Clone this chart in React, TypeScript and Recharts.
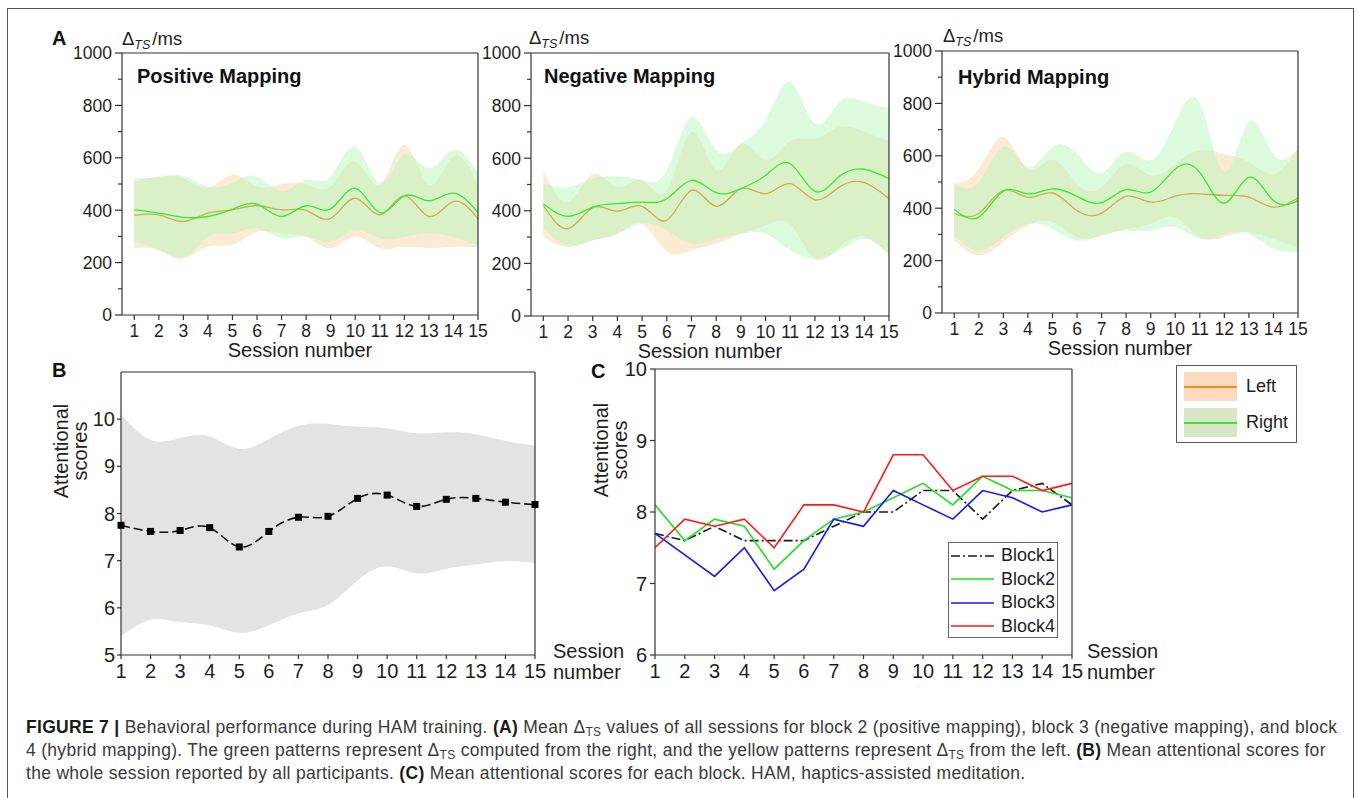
import React from 'react'
import { ComposedChart, LineChart, Line, Area, XAxis, YAxis, Legend } from 'recharts'

const FONT = '"Liberation Sans", Arial, Helvetica, sans-serif'
const INK = '#1e1e1e'
const AXIS = '#333'

const sessions = [1, 2, 3, 4, 5, 6, 7, 8, 9, 10, 11, 12, 13, 14, 15]
const msTicks = [0, 100, 200, 300, 400, 500, 600, 700, 800, 900, 1000]
const scoreTicksB = [5, 6, 7, 8, 9, 10]
const scoreTicksC = [6, 7, 8, 9, 10]

// block 2, positive mapping (delta TS in ms)
const posLeftMean = [380, 382, 357, 389, 401, 418, 401, 399, 369, 446, 382, 456, 376, 433, 367]
const posLeftLow = [255, 248, 217, 261, 268, 318, 312, 299, 255, 300, 255, 261, 255, 261, 259]
const posLeftHigh = [510, 529, 522, 484, 535, 490, 499, 499, 490, 586, 497, 650, 497, 605, 497]
const posRightMean = [401, 389, 373, 376, 404, 423, 376, 417, 405, 484, 391, 455, 436, 465, 391]
const posRightLow = [280, 248, 217, 299, 312, 331, 293, 299, 280, 325, 293, 299, 312, 299, 264]
const posRightHigh = [522, 526, 531, 490, 505, 529, 471, 516, 529, 643, 503, 611, 560, 631, 541]

// block 3, negative mapping
const negLeftMean = [421, 332, 412, 399, 417, 364, 478, 417, 484, 465, 503, 442, 491, 507, 446]
const negLeftLow = [300, 262, 288, 313, 351, 246, 250, 275, 313, 345, 349, 218, 262, 300, 231]
const negLeftHigh = [554, 433, 539, 490, 516, 478, 700, 554, 655, 592, 665, 674, 719, 700, 665]
const negRightMean = [427, 379, 414, 427, 433, 446, 516, 469, 484, 535, 579, 474, 531, 558, 522]
const negRightLow = [332, 269, 288, 313, 351, 326, 275, 294, 313, 313, 250, 218, 250, 294, 237]
const negRightHigh = [503, 490, 522, 531, 516, 554, 757, 630, 655, 744, 890, 731, 814, 814, 792]

// block 4, hybrid mapping
const hybLeftMean = [379, 381, 468, 442, 458, 391, 381, 445, 423, 446, 455, 449, 442, 404, 440]
const hybLeftLow = [277, 220, 271, 334, 347, 290, 296, 321, 341, 366, 290, 290, 309, 283, 252]
const hybLeftHigh = [493, 550, 671, 550, 585, 493, 480, 569, 525, 569, 620, 607, 576, 531, 626]
const hybRightMean = [395, 366, 465, 455, 474, 445, 421, 471, 461, 550, 537, 419, 518, 429, 429]
const hybRightLow = [296, 239, 290, 341, 321, 277, 296, 315, 315, 328, 283, 302, 302, 245, 233]
const hybRightHigh = [493, 497, 635, 557, 635, 607, 535, 616, 582, 728, 800, 537, 731, 605, 626]

// attentional scores, whole session
const attMean = [7.75, 7.62, 7.64, 7.7, 7.29, 7.62, 7.92, 7.94, 8.32, 8.39, 8.15, 8.3, 8.32, 8.24, 8.19]
const attLow = [5.4, 5.75, 5.7, 5.63, 5.47, 5.63, 5.88, 6.06, 6.58, 6.88, 6.73, 6.83, 6.92, 6.99, 6.95]
const attHigh = [10.1, 9.56, 9.6, 9.63, 9.37, 9.58, 9.86, 9.9, 9.84, 9.81, 9.7, 9.72, 9.68, 9.54, 9.44]

// attentional scores per block
const block1 = [7.7, 7.6, 7.8, 7.6, 7.6, 7.6, 7.8, 8.0, 8.0, 8.3, 8.3, 7.9, 8.3, 8.4, 8.1]
const block2 = [8.1, 7.6, 7.9, 7.8, 7.2, 7.6, 7.9, 8.0, 8.2, 8.4, 8.1, 8.5, 8.3, 8.3, 8.2]
const block3 = [7.7, 7.4, 7.1, 7.5, 6.9, 7.2, 7.9, 7.8, 8.3, 8.1, 7.9, 8.3, 8.2, 8.0, 8.1]
const block4 = [7.5, 7.9, 7.8, 7.9, 7.5, 8.1, 8.1, 8.0, 8.8, 8.8, 8.3, 8.5, 8.5, 8.3, 8.4]

const blockSeries = [
  { key: 'block1', name: 'Block1', color: '#1a1a1a', dash: '9 3 2 3' },
  { key: 'block2', name: 'Block2', color: '#1ee11e', dash: undefined },
  { key: 'block3', name: 'Block3', color: '#1414ff', dash: undefined },
  { key: 'block4', name: 'Block4', color: '#ff1a1a', dash: undefined },
]

const buildRows = (lMean: number[], lLow: number[], lHigh: number[], rMean: number[], rLow: number[], rHigh: number[]) =>
  sessions.map((s, i) => ({
    session: s,
    leftBand: [lLow[i], lHigh[i]],
    leftMean: lMean[i],
    rightBand: [rLow[i], rHigh[i]],
    rightMean: rMean[i],
  }))

const positiveRows = buildRows(posLeftMean, posLeftLow, posLeftHigh, posRightMean, posRightLow, posRightHigh)
const negativeRows = buildRows(negLeftMean, negLeftLow, negLeftHigh, negRightMean, negRightLow, negRightHigh)
const hybridRows = buildRows(hybLeftMean, hybLeftLow, hybLeftHigh, hybRightMean, hybRightLow, hybRightHigh)

const attRows = sessions.map((s, i) => ({ session: s, band: [attLow[i], attHigh[i]], mean: attMean[i] }))
const blockRows = sessions.map((s, i) => ({ session: s, block1: block1[i], block2: block2[i], block3: block3[i], block4: block4[i] }))

type Box = { left: number; top: number; right: number; bottom: number }

// y ticks every 100 ms, labelled every 200
function MsTick(props: any) {
  const { x, y, payload } = props
  const major = payload.value % 200 === 0
  const edge = x + 10
  return (
    <g>
      <line x1={edge - (major ? 7 : 4)} x2={edge} y1={y} y2={y} stroke={AXIS} strokeWidth={1.2} />
      {major && (
        <text x={x} y={y} dy="0.36em" textAnchor="end" fontSize={17.5} fill={INK}>
          {payload.value}
        </text>
      )}
    </g>
  )
}

const A_Y_W = 60
const A_TOP = 10
const A_RIGHT = 16
const A_X_H = 46

function MappingChart({ plot, rows }: { plot: Box; rows: ReturnType<typeof buildRows> }) {
  const width = plot.right - plot.left + A_Y_W + A_RIGHT
  const height = plot.bottom - plot.top + A_TOP + A_X_H
  return (
    <div style={{ position: 'absolute', left: plot.left - A_Y_W, top: plot.top - A_TOP }}>
      <ComposedChart width={width} height={height} data={rows} margin={{ top: A_TOP - 1, right: A_RIGHT - 1, bottom: 0, left: 0 }}>
        <XAxis
          xAxisId="b"
          type="number"
          dataKey="session"
          domain={[0.5, 15]}
          ticks={sessions}
          interval={0}
          height={A_X_H}
          tickSize={5}
          tickMargin={5}
          stroke={AXIS}
          strokeWidth={1.2}
          tick={{ fontSize: 17.5, fill: INK }}
          label={{ value: 'Session number', position: 'insideBottom', offset: 4, fontSize: 20, fill: INK }}
        />
        <XAxis xAxisId="t" orientation="top" type="number" dataKey="session" domain={[0.5, 15]} ticks={sessions} interval={0} height={1} tickSize={-5} tick={false} stroke={AXIS} strokeWidth={1.2} />
        <YAxis yAxisId="y" type="number" domain={[0, 1000]} ticks={msTicks} interval={0} width={A_Y_W} tickSize={7} tickMargin={3} tickLine={false} tick={<MsTick />} stroke={AXIS} strokeWidth={1.2} />
        <YAxis yAxisId="r" orientation="right" type="number" domain={[0, 1000]} width={1} tick={false} tickLine={false} stroke={AXIS} strokeWidth={1.2} />
        <Area xAxisId="b" yAxisId="y" dataKey="leftBand" type="natural" stroke="none" fill="#faebd2" fillOpacity={1} isAnimationActive={false} dot={false} activeDot={false} />
        <Area xAxisId="b" yAxisId="y" dataKey="rightBand" type="natural" stroke="none" fill="#b9f5b9" fillOpacity={0.5} isAnimationActive={false} dot={false} activeDot={false} />
        {/* left mean sits under the green band, so it reads olive */}
        <Line xAxisId="b" yAxisId="y" dataKey="leftMean" type="natural" stroke="#c9b04a" strokeWidth={1.3} dot={false} activeDot={false} isAnimationActive={false} />
        <Line xAxisId="b" yAxisId="y" dataKey="rightMean" type="natural" stroke="#33ee33" strokeWidth={1.3} dot={false} activeDot={false} isAnimationActive={false} />
      </ComposedChart>
    </div>
  )
}

const BC_Y_W = 40
const BC_TOP = 10
const BC_RIGHT = 16
const BC_X_H = 40

const boxB: Box = { left: 121, top: 372, right: 535, bottom: 655 }
const boxC: Box = { left: 655, top: 369, right: 1072, bottom: 655 }

function SquareDot(props: any) {
  const { cx, cy, index } = props
  return <rect key={`sq-${index}`} x={cx - 3.5} y={cy - 3.5} width={7} height={7} fill="#000" />
}

function WholeSessionChart() {
  const p = boxB
  const width = p.right - p.left + BC_Y_W + BC_RIGHT
  const height = p.bottom - p.top + BC_TOP + BC_X_H
  return (
    <div style={{ position: 'absolute', left: p.left - BC_Y_W, top: p.top - BC_TOP }}>
      <ComposedChart width={width} height={height} data={attRows} margin={{ top: BC_TOP - 1, right: BC_RIGHT - 1, bottom: 0, left: 0 }}>
        <XAxis xAxisId="b" type="number" dataKey="session" domain={[1, 15]} ticks={sessions} interval={0} height={BC_X_H} tickSize={4} tickMargin={5} stroke={AXIS} strokeWidth={1.2} tick={{ fontSize: 20, fill: INK }} />
        <XAxis xAxisId="t" orientation="top" type="number" dataKey="session" domain={[1, 15]} ticks={sessions} interval={0} height={1} tickSize={-5} tick={false} stroke={AXIS} strokeWidth={1.2} />
        <YAxis yAxisId="y" type="number" domain={[5, 11]} ticks={scoreTicksB} interval={0} width={BC_Y_W} tickSize={4} tickMargin={2} stroke={AXIS} strokeWidth={1.2} tick={{ fontSize: 20, fill: INK }} />
        <YAxis yAxisId="r" orientation="right" type="number" domain={[5, 11]} width={1} tick={false} tickLine={false} stroke={AXIS} strokeWidth={1.2} />
        <Area xAxisId="b" yAxisId="y" dataKey="band" type="natural" stroke="none" fill="#e3e3e3" fillOpacity={1} isAnimationActive={false} dot={false} activeDot={false} />
        <Line xAxisId="b" yAxisId="y" dataKey="mean" type="natural" stroke="#111" strokeWidth={1.6} strokeDasharray="9 4" dot={<SquareDot />} activeDot={false} isAnimationActive={false} />
      </ComposedChart>
    </div>
  )
}

function BlockLegend() {
  return (
    <div style={{ border: '1px solid #666', background: '#fff', padding: '1px 0', boxSizing: 'border-box', width: 110, height: 96 }}>
      {blockSeries.map((s) => (
        <div key={s.key} style={{ height: 23.5, display: 'flex', alignItems: 'center' }}>
          <svg width={50} height={10} style={{ flex: 'none' }}>
            <line x1={2} x2={45} y1={5} y2={5} stroke={s.color} strokeWidth={1.6} strokeDasharray={s.dash} />
          </svg>
          <span style={{ fontSize: 18, color: INK, marginLeft: 2 }}>{s.name}</span>
        </div>
      ))}
    </div>
  )
}

function BlockChart() {
  const p = boxC
  const width = p.right - p.left + BC_Y_W + BC_RIGHT
  const height = p.bottom - p.top + BC_TOP + BC_X_H
  return (
    <div style={{ position: 'absolute', left: p.left - BC_Y_W, top: p.top - BC_TOP }}>
      <LineChart width={width} height={height} data={blockRows} margin={{ top: BC_TOP - 1, right: BC_RIGHT - 1, bottom: 0, left: 0 }}>
        <XAxis xAxisId="b" type="number" dataKey="session" domain={[1, 15]} ticks={sessions} interval={0} height={BC_X_H} tickSize={4} tickMargin={5} stroke={AXIS} strokeWidth={1.2} tick={{ fontSize: 20, fill: INK }} />
        <XAxis xAxisId="t" orientation="top" type="number" dataKey="session" domain={[1, 15]} ticks={sessions} interval={0} height={1} tickSize={-5} tick={false} stroke={AXIS} strokeWidth={1.2} />
        <YAxis yAxisId="y" type="number" domain={[6, 10]} ticks={scoreTicksC} interval={0} width={BC_Y_W} tickSize={5} tickMargin={3} stroke={AXIS} strokeWidth={1.2} tick={{ fontSize: 20, fill: INK }} />
        <YAxis yAxisId="r" orientation="right" type="number" domain={[6, 10]} width={1} tick={false} tickLine={false} stroke={AXIS} strokeWidth={1.2} />
        {blockSeries.map((s) => (
          <Line
            key={s.key}
            xAxisId="b"
            yAxisId="y"
            dataKey={s.key}
            name={s.name}
            type="linear"
            stroke={s.color}
            strokeWidth={1.6}
            strokeDasharray={s.dash}
            dot={false}
            activeDot={false}
            isAnimationActive={false}
          />
        ))}
        <Legend
          layout="vertical"
          align="center"
          verticalAlign="middle"
          wrapperStyle={{ left: 948 - (p.left - BC_Y_W), top: 542 - (p.top - BC_TOP), width: 110, height: 96 }}
          content={() => <BlockLegend />}
        />
      </LineChart>
    </div>
  )
}

// shared key for the three mapping panels
function SideLegend() {
  const patch = (bg: string, line: string) => (
    <div style={{ position: 'relative', width: 53, height: 29, background: bg }}>
      <div style={{ position: 'absolute', left: 0, right: 0, top: 14, height: 1.5, background: line }} />
    </div>
  )
  return (
    <div style={{ position: 'absolute', left: 1176, top: 365, width: 121, height: 78, border: '1px solid #555', boxSizing: 'border-box', background: '#fff' }}>
      <div style={{ position: 'absolute', left: 7, top: 6, display: 'flex', alignItems: 'center' }}>
        {patch('#fcdabd', '#f5892b')}
        <span style={{ marginLeft: 9, fontSize: 18, color: INK }}>Left</span>
      </div>
      <div style={{ position: 'absolute', left: 7, top: 42, display: 'flex', alignItems: 'center' }}>
        {patch('#d9e6c5', '#35e635')}
        <span style={{ marginLeft: 9, fontSize: 18, color: INK }}>Right</span>
      </div>
    </div>
  )
}

function DeltaUnit({ x, y }: { x: number; y: number }) {
  return (
    <text x={x} y={y} fontSize={18.5} fill={INK}>
      Δ
      <tspan fontSize={12.5} fontStyle="italic" dy={4}>TS</tspan>
      <tspan dy={-4} dx={2}>/ms</tspan>
    </text>
  )
}

function Annotations() {
  const title = { fontSize: 20, fontWeight: 700, fill: '#111' } as const
  const letter = { fontSize: 20, fontWeight: 700, fill: '#111' } as const
  const label = { fontSize: 20, fill: INK } as const
  return (
    <svg width={1358} height={798} style={{ position: 'absolute', left: 0, top: 0, pointerEvents: 'none', fontFamily: FONT }}>
      <text x={52} y={45} {...letter}>A</text>
      <DeltaUnit x={122} y={45} />
      <DeltaUnit x={529} y={44} />
      <DeltaUnit x={943} y={42} />
      <text x={137} y={83} {...title}>Positive Mapping</text>
      <text x={544} y={83} {...title}>Negative Mapping</text>
      <text x={958} y={84} {...title}>Hybrid Mapping</text>

      <text x={52} y={377} {...letter}>B</text>
      <text transform="translate(61,451) rotate(-90)" textAnchor="middle" dominantBaseline="central" {...label}>Attentional</text>
      <text transform="translate(80,451) rotate(-90)" textAnchor="middle" dominantBaseline="central" {...label}>scores</text>
      <text x={553} y={658} {...label}>Session</text>
      <text x={553} y={679} {...label}>number</text>

      <text x={591} y={378} {...letter}>C</text>
      <text transform="translate(601,450) rotate(-90)" textAnchor="middle" dominantBaseline="central" {...label}>Attentional</text>
      <text transform="translate(620,450) rotate(-90)" textAnchor="middle" dominantBaseline="central" {...label}>scores</text>
      <text x={1087} y={658} {...label}>Session</text>
      <text x={1087} y={679} {...label}>number</text>
    </svg>
  )
}

const Sub = ({ children }: { children: React.ReactNode }) => (
  <span style={{ fontSize: 12, position: 'relative', top: 3 }}>{children}</span>
)

function Caption() {
  const line = { position: 'absolute', left: 26, whiteSpace: 'nowrap', fontSize: 17.5, letterSpacing: 0.3, lineHeight: '23px', color: '#3a3a3a' } as const
  const b = { fontWeight: 700, color: '#1a1a1a' } as const
  return (
    <>
      <div style={{ ...line, top: 716 }}>
        <span style={b}>FIGURE 7 |</span> Behavioral performance during HAM training. <span style={b}>(A)</span> Mean Δ<Sub>TS</Sub> values of all sessions for block 2 (positive mapping), block 3 (negative mapping), and block
      </div>
      <div style={{ ...line, top: 739 }}>
        4 (hybrid mapping). The green patterns represent Δ<Sub>TS</Sub> computed from the right, and the yellow patterns represent Δ<Sub>TS</Sub> from the left. <span style={b}>(B)</span> Mean attentional scores for
      </div>
      <div style={{ ...line, top: 762 }}>
        the whole session reported by all participants. <span style={b}>(C)</span> Mean attentional scores for each block. HAM, haptics-assisted meditation.
      </div>
    </>
  )
}

export default function App() {
  return (
    <div style={{ position: 'absolute', left: 0, top: 0, width: 1358, height: 798, overflow: 'hidden', background: '#fff', fontFamily: FONT }}>
      <div style={{ position: 'absolute', left: 7, top: 8, width: 1347, height: 800, border: '1px solid #555', boxSizing: 'border-box' }} />
      <MappingChart plot={{ left: 122, top: 53, right: 478, bottom: 315 }} rows={positiveRows} />
      <MappingChart plot={{ left: 531, top: 53, right: 889, bottom: 316 }} rows={negativeRows} />
      <MappingChart plot={{ left: 942, top: 51, right: 1298, bottom: 313 }} rows={hybridRows} />
      <WholeSessionChart />
      <BlockChart />
      <SideLegend />
      <Annotations />
      <Caption />
    </div>
  )
}
